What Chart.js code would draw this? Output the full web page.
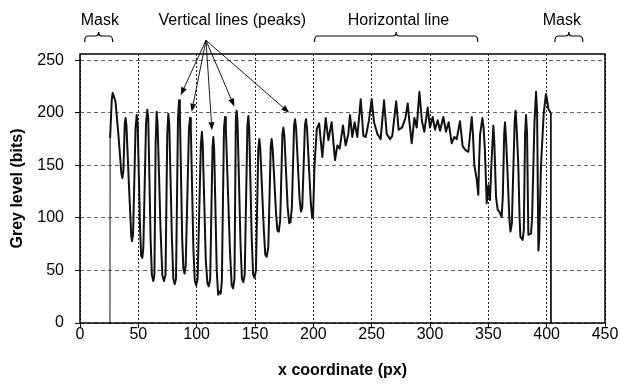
<!DOCTYPE html>
<html>
<head>
<meta charset="utf-8">
<script src="https://cdn.jsdelivr.net/npm/chart.js@4.4.0/dist/chart.umd.min.js"></script>
<style>
  html, body { margin: 0; padding: 0; background: #fff; }
</style>
</head>
<body>
<canvas id="profile" width="620" height="386"></canvas>
<script>
// grey level profile: x position (px) and grey level (bits)
const xPos = [25.7, 25.8, 27.2, 28, 29, 30.5, 33, 35.5, 36.3, 37.2, 38.4, 39.1, 39.8, 42, 44, 44.6, 45.5, 47.6, 48.6,
  49.4, 51.5, 52.4, 53.4, 54.3, 56.6, 57.7, 58.5, 60.5, 61.6, 62.8, 63.8, 64.8, 65.7, 66.5, 69, 70.6, 72, 73.3,
  74.8, 75.7, 76.5, 78.8, 80, 81.2, 82.3, 84, 84.9, 85.6, 87.6, 88.6, 89.6, 90.6, 93.4, 94.3, 95, 97.2, 98.4,
  99.6, 100.8, 103.6, 104.5, 105.2, 107.8, 109.2, 110.4, 111.6, 113.6, 114.3, 115, 117.2, 118.4, 119.6, 120.6,
  121.6, 123.4, 124.3, 125, 128.5, 130, 131.2, 132.4, 133.6, 134.3, 135, 137.6, 138.8, 140, 141.2, 143.5, 144.3,
  145, 147.2, 148.4, 149.6, 150.8, 152.8, 153.7, 154.5, 157.5, 158.8, 160, 161.4, 163.5, 164.3, 165.2, 168,
  169.2, 170.4, 171.6, 173.5, 174.3, 175.2, 178, 179.3, 180.4, 181.6, 183.5, 184.3, 185.2, 188.2, 189.4, 190.5,
  192.8, 193.7, 194.6, 197.8, 199, 199.8, 201, 203, 205, 207.7, 210.6, 212.9, 215.7, 218.6, 220.6, 222.6, 225.4,
  227.7, 230, 231.4, 233.4, 235.4, 237.7, 240.6, 242.9, 244.9, 247.7, 250, 252, 254.9, 257.7, 260.6, 262.9,
  265.7, 267.7, 271, 273.1, 276, 278.9, 280.9, 282.3, 284.3, 286.6, 288.6, 290.9, 293.1, 295.1, 298, 300, 302.3,
  304.3, 306.6, 308.6, 311.4, 313.7, 316, 318.6, 320.9, 322.9, 325.7, 328, 330.9, 332.9, 335.8, 336.8, 338, 340,
  341.4, 342, 342.9, 344.9, 346, 347.1, 348.6, 350, 351.4, 352.6, 354.3, 355.2, 356.6, 358, 359.4, 361.4, 362.4,
  363.6, 364.3, 365.2, 366.3, 368, 369, 370.2, 371, 372.6, 373.4, 374.3, 375.7, 376.8, 377.5, 379.4, 380.4,
  381.5, 382.3, 383.2, 384.3, 386.6, 387.5, 389.5, 390.9, 391.8, 392.9, 393.6, 395.1, 397.5, 399.4, 400.4, 401.4,
  403.4, 403.7];
const grey = [0, 176, 212, 219, 216, 210, 178, 142, 138, 145, 190, 195, 188, 130, 82, 78, 85, 185, 198,
  190, 90, 64, 62, 72, 190, 203, 195, 80, 46, 40, 46, 170, 201, 190, 90, 45, 40, 46,
  180, 199, 190, 80, 42, 37, 42, 195, 212, 200, 80, 52, 47, 55, 185, 195, 185, 70, 40,
  36, 42, 170, 182, 170, 60, 38, 35, 42, 168, 177, 165, 50, 27, 30, 28,
  40, 185, 196, 186, 70, 36, 33, 42, 195, 202, 192, 75, 42, 39, 46, 188, 197,
  186, 80, 46, 43, 50, 165, 175, 166, 90, 65, 63, 72, 168, 175, 165, 105,
  88, 87, 98, 180, 186, 178, 110, 95, 96, 110, 188, 194, 186, 118, 106, 110,
  188, 194, 185, 115, 100, 102, 150, 185, 190, 158, 195, 174, 191, 155, 169, 166, 188,
  169, 180, 198, 177, 191, 177, 213, 178, 177, 193, 213, 191, 180, 175, 212, 180,
  175, 178, 211, 184, 186, 195, 209, 192, 171, 195, 186, 220, 192, 182, 205, 186, 196,
  184, 193, 183, 196, 182, 191, 171, 177, 175, 192, 168, 164, 163, 196, 180, 150, 137,
  122, 150, 179, 195, 185, 163, 114, 131, 117, 150, 188, 170, 120, 108, 106, 101, 120,
  180, 191, 175, 147, 100, 87, 95, 130, 192, 202, 185, 150, 100, 82, 79, 88,
  180, 198, 180, 84, 85, 100, 190, 220, 200, 69, 80, 149, 200, 218, 212, 204,
  200, 0];

const xTicks = [0, 50, 100, 150, 200, 250, 300, 350, 400, 450];
const yTicks = [0, 50, 100, 150, 200, 250];

// notes above the plot
const notes = ['Mask', 'Vertical lines (peaks)', 'Horizontal line', 'Mask'];
const noteX = [17, 130.5, 273, 413];
const braceFrom = [4, 201, 407];
const braceTo = [28, 341, 431];
const arrowFrom = [108, 269];
const arrowTipX = [86.3, 95.7, 113.1, 132.3, 179.4];
const arrowTipY = [216.7, 201, 183.5, 206, 200];

const FONT = '"Liberation Sans", Arial, sans-serif';
Chart.defaults.font.family = FONT;
Chart.defaults.font.size = 16;
Chart.defaults.color = '#000';

function brace(ctx, x0, x1, yy) {
  const xm = (x0 + x1) / 2, r = 3;
  ctx.beginPath();
  ctx.moveTo(x0, yy + 6);
  ctx.quadraticCurveTo(x0, yy, x0 + r, yy);
  ctx.lineTo(xm - r, yy);
  ctx.quadraticCurveTo(xm, yy, xm, yy - 4);
  ctx.quadraticCurveTo(xm, yy, xm + r, yy);
  ctx.lineTo(x1 - r, yy);
  ctx.quadraticCurveTo(x1, yy, x1, yy + 6);
  ctx.stroke();
}

function arrow(ctx, x0, y0, x1, y1) {
  const ang = Math.atan2(y1 - y0, x1 - x0), len = 8, w = 3;
  ctx.beginPath();
  ctx.moveTo(x0, y0);
  ctx.lineTo(x1 - Math.cos(ang) * len, y1 - Math.sin(ang) * len);
  ctx.stroke();
  ctx.beginPath();
  ctx.moveTo(x1, y1);
  ctx.lineTo(x1 - Math.cos(ang) * len - Math.sin(ang) * w, y1 - Math.sin(ang) * len + Math.cos(ang) * w);
  ctx.lineTo(x1 - Math.cos(ang) * len + Math.sin(ang) * w, y1 - Math.sin(ang) * len - Math.cos(ang) * w);
  ctx.closePath();
  ctx.fill();
}

const annotate = {
  id: 'annotate',
  afterDraw(chart) {
    const {ctx, chartArea: a, scales: {x, y}} = chart;
    ctx.save();
    // plot frame
    ctx.strokeStyle = '#000';
    ctx.lineWidth = 1.5;
    ctx.strokeRect(a.left, a.top, a.right - a.left, a.bottom - a.top);
    // labels on top
    ctx.fillStyle = '#000';
    ctx.font = '16px ' + FONT;
    ctx.textAlign = 'center';
    ctx.textBaseline = 'alphabetic';
    notes.forEach((t, i) => ctx.fillText(t, x.getPixelForValue(noteX[i]), a.top - 29));
    ctx.lineWidth = 1.2;
    braceFrom.forEach((f, i) => brace(ctx, x.getPixelForValue(f), x.getPixelForValue(braceTo[i]), a.top - 18));
    // arrows to the peaks
    ctx.lineWidth = 0.9;
    const ox = x.getPixelForValue(arrowFrom[0]), oy = y.getPixelForValue(arrowFrom[1]);
    arrowTipX.forEach((tx, i) => arrow(ctx, ox, oy, x.getPixelForValue(tx), y.getPixelForValue(arrowTipY[i])));
    ctx.restore();
  }
};

const last = xPos.length - 1;

new Chart(document.getElementById('profile'), {
  type: 'line',
  data: {
    datasets: [{
      data: xPos.map((v, i) => ({x: v, y: grey[i]})),
      borderColor: '#111',
      borderWidth: 2,
      borderJoinStyle: 'round',
      pointRadius: 0,
      tension: 0,
      segment: {
        borderWidth: ctx => (ctx.p0DataIndex === 0 || ctx.p1DataIndex === last) ? 1 : 2
      }
    }]
  },
  options: {
    responsive: false,
    devicePixelRatio: 1,
    animation: false,
    layout: {padding: {top: 54, right: 15, left: 0, bottom: 0}},
    plugins: {legend: {display: false}, tooltip: {enabled: false}},
    scales: {
      x: {
        type: 'linear',
        min: 0,
        max: 450,
        afterBuildTicks: s => { s.ticks = xTicks.map(v => ({value: v})); },
        afterFit: s => { s.height = 63; },
        grid: {color: '#222', tickColor: '#000', tickLength: 5, lineWidth: 1},
        border: {display: false, dash: [2, 2]},
        ticks: {padding: -3, maxRotation: 0},
        title: {display: true, text: 'x coordinate (px)', font: {weight: 'bold', size: 16}, padding: {bottom: 6, top: 0}}
      },
      y: {
        min: 0,
        max: 256,
        afterBuildTicks: s => { s.ticks = yTicks.map(v => ({value: v})); },
        afterFit: s => { s.width = 80; },
        grid: {color: '#666', tickColor: '#000', tickLength: 5, lineWidth: 1},
        border: {display: false, dash: [4, 3]},
        ticks: {padding: 11},
        title: {display: true, text: 'Grey level (bits)', font: {weight: 'bold', size: 16}, padding: {top: 8, bottom: 0}}
      }
    }
  },
  plugins: [annotate]
});
</script>
</body>
</html>
